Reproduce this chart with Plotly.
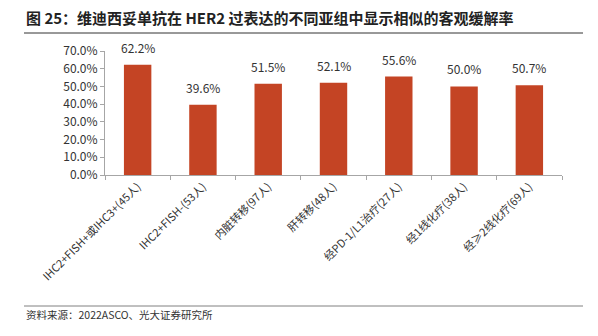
import plotly.graph_objects as go

categories = ["IHC2+FISH+或IHC3+(45人)", "IHC2+FISH-(53人)", "内脏转移(97人)", "肝转移(48人)",
              "经PD-1/L1治疗(27人)", "经1线化疗(38人)", "经≥2线化疗(69人)"]
orr = [0.622, 0.396, 0.515, 0.521, 0.556, 0.500, 0.507]
y_ticks = [0, 0.1, 0.2, 0.3, 0.4, 0.5, 0.6, 0.7]

W, H = 598, 336
L, R, T, B = 105, 36, 51, 161
pw, ph = W - L - R, H - T - B

def px(x):
    return (x - L) / pw

def py(y):
    return (H - B - y) / ph

FONT = "Noto Sans CJK SC"

fig = go.Figure(go.Bar(
    x=categories, y=orr, marker=dict(color="#C44424", line=dict(width=0)),
))

value_labels = [
    dict(x=c, y=v, text=f"{v:.1%}", xref="x", yref="y", showarrow=False,
         yanchor="bottom", yshift=7, font=dict(size=12, color="#333333", family=FONT))
    for c, v in zip(categories, orr)
]

fig.update_layout(
    width=W, height=H, margin=dict(l=L, r=R, t=T, b=B),
    paper_bgcolor="white", plot_bgcolor="white", showlegend=False,
    bargap=0.58,
    font=dict(family=FONT, color="#333333"),
    xaxis=dict(showline=True, linecolor="#A6A6A6", linewidth=1, ticks="outside",
               tickson="boundaries", ticklen=4, tickcolor="#A6A6A6", tickangle=-45,
               tickfont=dict(size=11, color="#333333", family=FONT), showgrid=False),
    yaxis=dict(range=[0, 0.7], tickvals=y_ticks, tickformat=".1%", showline=True,
               linecolor="#A6A6A6", linewidth=1, ticks="outside", ticklen=4,
               tickcolor="#A6A6A6", showgrid=False, zeroline=False,
               tickfont=dict(size=12, color="#333333", family=FONT)),
    shapes=[
        dict(type="line", xref="paper", yref="paper", x0=px(24), x1=px(583), y0=py(33), y1=py(33),
             line=dict(color="#333333", width=1)),
        dict(type="line", xref="paper", yref="paper", x0=px(24), x1=px(583), y0=py(306), y1=py(306),
             line=dict(color="#808080", width=1)),
    ],
    annotations=value_labels + [
        dict(text="<b>图 25：维迪西妥单抗在 HER2 过表达的不同亚组中显示相似的客观缓解率</b>",
             xref="paper", yref="paper", x=px(24), y=py(17), xanchor="left", yanchor="middle",
             showarrow=False, font=dict(size=15, color="#222222", family=FONT)),
        dict(text="资料来源：2022ASCO、光大证券研究所",
             xref="paper", yref="paper", x=px(24), y=py(314), xanchor="left", yanchor="middle",
             showarrow=False, font=dict(size=10.5, color="#333333", family=FONT)),
    ],
)

fig.write_html("out.html")
